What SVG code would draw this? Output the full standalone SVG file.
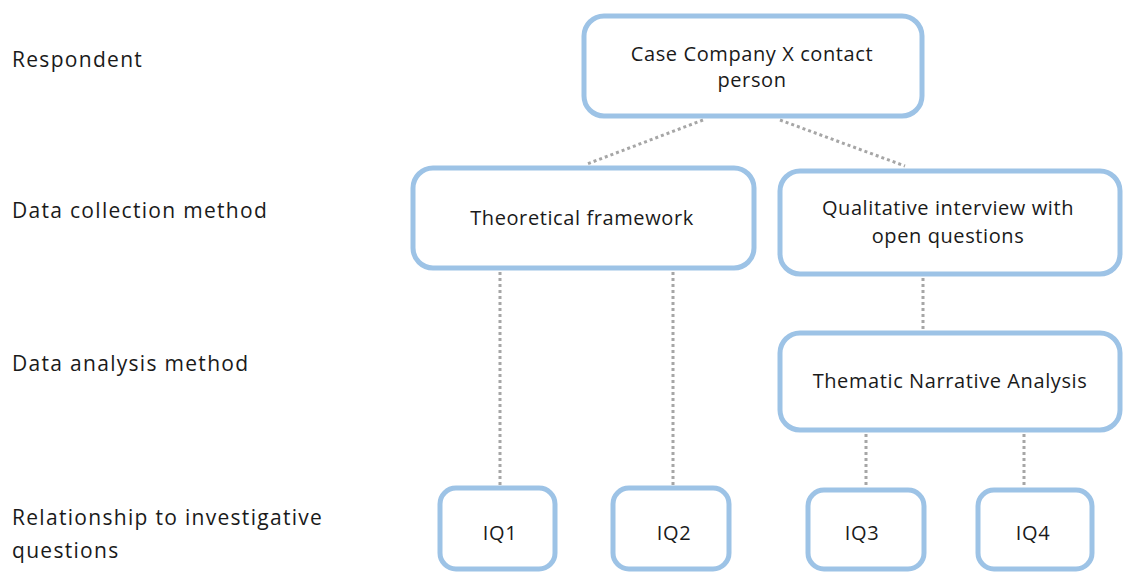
<svg xmlns="http://www.w3.org/2000/svg" width="1123" height="574" viewBox="0 0 1123 574">
<style>
.box{fill:#fff;stroke:#9dc3e6;stroke-width:5}
.lbl{font-family:"Open Sans","Liberation Sans",sans-serif;font-size:21px;fill:#1a1a1a;letter-spacing:1.3px}
.t{font-family:"Open Sans","Liberation Sans",sans-serif;font-size:20px;fill:#1a1a1a;letter-spacing:0.6px;text-anchor:middle}
.ln{stroke:#a6a6a6;stroke-width:3;stroke-dasharray:3 3;fill:none}
</style>
<rect width="1123" height="574" fill="#fff"/>
<g id="row-labels">
<text class="lbl" x="12" y="67">Respondent</text>
<text class="lbl" x="12" y="218">Data collection method</text>
<text class="lbl" x="12" y="371">Data analysis method</text>
<text class="lbl" x="12" y="525">Relationship to investigative</text>
<text class="lbl" x="12" y="558">questions</text>
</g>
<g id="connectors">
<line class="ln" x1="703" y1="120" x2="587" y2="164"/>
<line class="ln" x1="780" y1="120" x2="905" y2="166"/>
<line class="ln" x1="500" y1="272" x2="500" y2="485"/>
<line class="ln" x1="673" y1="272" x2="673" y2="485"/>
<line class="ln" x1="923" y1="278" x2="923" y2="330"/>
<line class="ln" x1="866" y1="434" x2="866" y2="487"/>
<line class="ln" x1="1024" y1="434" x2="1024" y2="487"/>
</g>
<g id="n-case">
<rect class="box" x="584" y="16" width="338" height="100" rx="20"/>
<text class="t" x="752" y="61">Case Company X contact</text>
<text class="t" x="752" y="87">person</text>
</g>
<g id="n-theory">
<rect class="box" x="413" y="168" width="341" height="100" rx="20"/>
<text class="t" x="582" y="225">Theoretical framework</text>
</g>
<g id="n-interview">
<rect class="box" x="780" y="171" width="340" height="103" rx="20"/>
<text class="t" x="948" y="215">Qualitative interview with</text>
<text class="t" x="948" y="243">open questions</text>
</g>
<g id="n-thematic">
<rect class="box" x="780" y="333" width="340" height="97" rx="20"/>
<text class="t" x="950" y="388">Thematic Narrative Analysis</text>
</g>
<g id="n-iq1">
<rect class="box" x="440" y="488" width="115" height="81" rx="16"/>
<text class="t" x="500" y="540">IQ1</text>
</g>
<g id="n-iq2">
<rect class="box" x="613" y="488" width="116" height="81" rx="16"/>
<text class="t" x="674" y="540">IQ2</text>
</g>
<g id="n-iq3">
<rect class="box" x="808" y="490" width="116" height="79" rx="16"/>
<text class="t" x="862" y="540">IQ3</text>
</g>
<g id="n-iq4">
<rect class="box" x="978" y="490" width="114" height="79" rx="16"/>
<text class="t" x="1033" y="540">IQ4</text>
</g>
</svg>
